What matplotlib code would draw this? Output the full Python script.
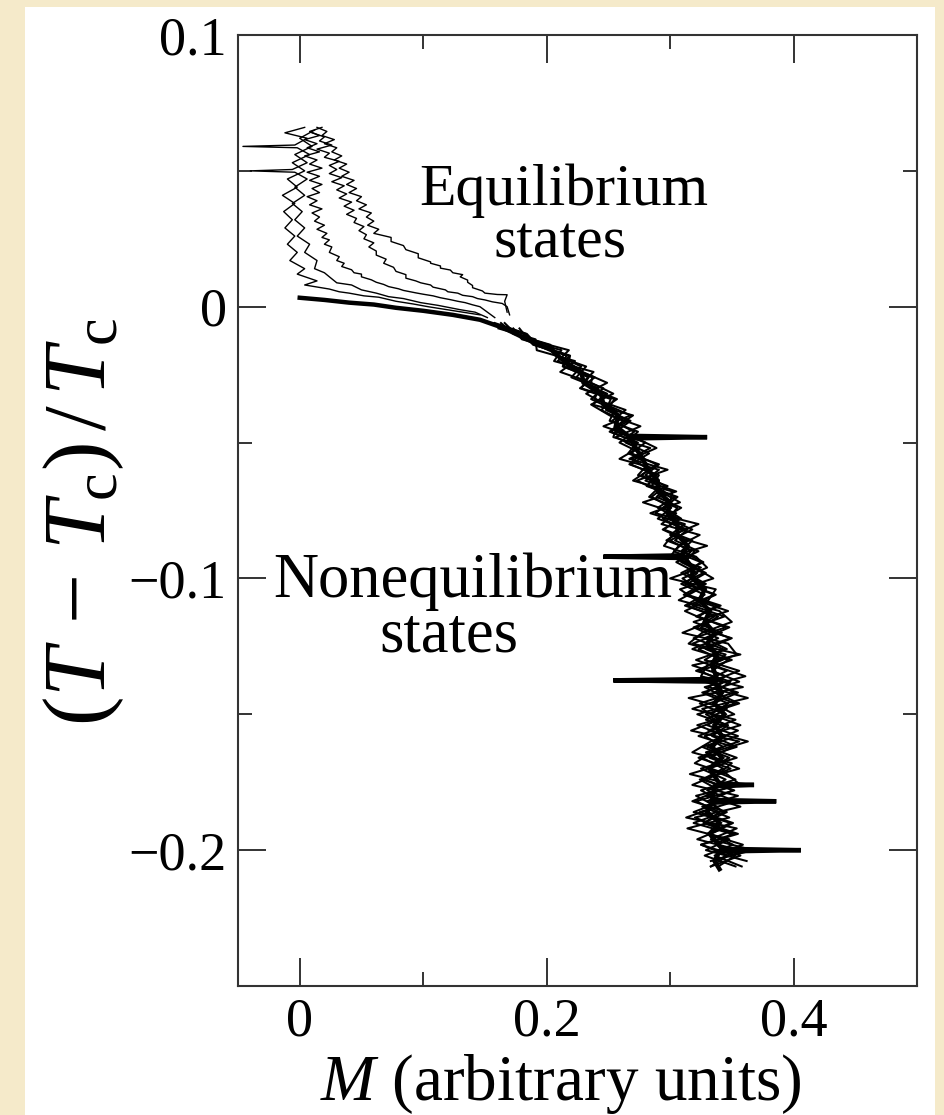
import numpy as np
import matplotlib.pyplot as plt
from matplotlib.patches import Rectangle

plt.rcParams['font.family'] = ['Liberation Serif', 'DejaVu Serif']
plt.rcParams['mathtext.fontset'] = 'custom'
plt.rcParams['mathtext.rm'] = 'Liberation Serif'
plt.rcParams['mathtext.it'] = 'Liberation Serif:italic'

# upper (equilibrium) branches: (T-Tc)/Tc and M
a_t = [0.066, 0.064, 0.062, 0.0595, 0.059, 0.0585, 0.056, 0.053, 0.050, 0.047, 0.044, 0.041,
       0.038, 0.035, 0.032, 0.029, 0.026, 0.023, 0.020, 0.017, 0.014, 0.012, 0.0095, 0.008,
       0.0065, 0.0055, 0.005, 0.004, 0.0035, 0.002, 0.001, 0.0, -0.001, -0.002, -0.003]
a_m = [0.004, -0.012, 0.006, -0.004, -0.046, -0.002, 0.008, -0.006, 0.004, -0.010, -0.002, -0.014,
       -0.004, -0.013, -0.006, -0.012, -0.004, -0.010, -0.002, -0.008, 0.004, -0.002, 0.014, 0.004,
       0.024, 0.032, 0.040, 0.052, 0.064, 0.078, 0.092, 0.104, 0.118, 0.132, 0.146]

b_t = [0.065, 0.062, 0.059, 0.056, 0.053, 0.0505, 0.050, 0.0495, 0.047, 0.044, 0.041, 0.038,
       0.035, 0.032, 0.029, 0.026, 0.023, 0.020, 0.017, 0.014, 0.0125, 0.011, 0.0088, 0.008,
       0.0062, 0.005, 0.0037, 0.003, 0.0015, 0.0005, -0.0011, -0.002, -0.004]
b_m = [0.012, 0.000, 0.010, -0.004, 0.006, -0.006, -0.040, -0.004, 0.006, -0.004, 0.004, -0.006,
       0.002, -0.004, 0.004, -0.002, 0.008, 0.004, 0.014, 0.012, 0.020, 0.024, 0.030, 0.042,
       0.050, 0.062, 0.072, 0.084, 0.098, 0.112, 0.130, 0.142, 0.152]

c_t = [0.066, 0.0645, 0.063, 0.0615, 0.060, 0.0585, 0.057, 0.0555, 0.054, 0.0525, 0.051, 0.0495,
       0.048, 0.0465, 0.045, 0.0435, 0.042, 0.0405, 0.039, 0.0375, 0.036, 0.0345, 0.033, 0.0315,
       0.030, 0.0285, 0.027, 0.0255, 0.0246, 0.023, 0.022, 0.020, 0.0184, 0.017, 0.016, 0.0148,
       0.0136, 0.0125, 0.012, 0.011, 0.0099, 0.009, 0.0082, 0.0074, 0.0066, 0.006, 0.0051, 0.0046,
       0.004, 0.0033, 0.0026, 0.002, 0.0015, 0.0007, 0.0, -0.002, -0.004]
c_m = [0.018, 0.008, 0.016, 0.004, 0.014, 0.006, 0.016, 0.004, 0.014, 0.008, 0.018, 0.006,
       0.016, 0.008, 0.018, 0.010, 0.016, 0.006, 0.014, 0.008, 0.018, 0.010, 0.016, 0.012,
       0.020, 0.014, 0.022, 0.018, 0.024, 0.020, 0.026, 0.024, 0.032, 0.030, 0.036, 0.034,
       0.042, 0.044, 0.050, 0.050, 0.058, 0.062, 0.068, 0.072, 0.080, 0.084, 0.094, 0.100,
       0.108, 0.114, 0.122, 0.128, 0.134, 0.140, 0.146, 0.152, 0.158]

d_t = [0.064, 0.0625, 0.061, 0.0595, 0.058, 0.0565, 0.055, 0.0535, 0.052, 0.0505, 0.049, 0.0475,
       0.046, 0.0445, 0.043, 0.0415, 0.040, 0.0385, 0.037, 0.0355, 0.034, 0.0325, 0.031, 0.0295,
       0.028, 0.0265, 0.025, 0.0235, 0.022, 0.0205, 0.019, 0.0175, 0.016, 0.0145, 0.013, 0.0118,
       0.0105, 0.0095, 0.0088, 0.008, 0.0072, 0.0062, 0.0055, 0.005, 0.0042, 0.0037, 0.003,
       0.0025, 0.0018, 0.0012, 0.0, -0.003]
d_m = [0.010, 0.020, 0.016, 0.026, 0.014, 0.024, 0.020, 0.032, 0.024, 0.030, 0.024, 0.034,
       0.026, 0.036, 0.030, 0.038, 0.032, 0.042, 0.036, 0.044, 0.038, 0.046, 0.044, 0.052,
       0.048, 0.054, 0.052, 0.060, 0.056, 0.062, 0.062, 0.070, 0.068, 0.076, 0.078, 0.086,
       0.086, 0.094, 0.098, 0.106, 0.108, 0.118, 0.120, 0.128, 0.132, 0.140, 0.144,
       0.150, 0.156, 0.164, 0.168, 0.170]

e_t = [0.066, 0.0645, 0.063, 0.0615, 0.060, 0.0585, 0.057, 0.0555, 0.054, 0.0525, 0.051, 0.0495,
       0.048, 0.0465, 0.045, 0.0435, 0.042, 0.0405, 0.039, 0.0375, 0.036, 0.0345, 0.033, 0.0315,
       0.030, 0.0285, 0.027, 0.0255, 0.024, 0.0225, 0.021, 0.0195, 0.018, 0.0165, 0.016, 0.015,
       0.0142, 0.0135, 0.0125, 0.0118, 0.011, 0.0098, 0.009, 0.0078, 0.007, 0.0058, 0.005,
       0.0045, 0.0044, 0.002, -0.002]
e_m = [0.014, 0.022, 0.018, 0.028, 0.020, 0.030, 0.026, 0.034, 0.028, 0.038, 0.032, 0.040,
       0.034, 0.044, 0.038, 0.046, 0.040, 0.050, 0.046, 0.054, 0.048, 0.058, 0.054, 0.060,
       0.055, 0.064, 0.060, 0.074, 0.074, 0.084, 0.086, 0.096, 0.096, 0.106, 0.106, 0.114,
       0.114, 0.122, 0.124, 0.132, 0.130, 0.136, 0.136, 0.140, 0.140, 0.148, 0.150,
       0.160, 0.168, 0.166, 0.168]

# lower part (below Tc), two interleaved temperature grids
t_low = [-0.006, -0.010, -0.014, -0.018, -0.022, -0.026, -0.030, -0.034, -0.038, -0.042,
         -0.046, -0.050, -0.054, -0.058, -0.062, -0.066, -0.070, -0.074, -0.078, -0.082,
         -0.086, -0.090, -0.094, -0.098, -0.102, -0.106, -0.110, -0.114, -0.118, -0.122,
         -0.126, -0.130, -0.134, -0.138, -0.142, -0.146, -0.150, -0.154, -0.158, -0.162,
         -0.166, -0.170, -0.174, -0.178, -0.182, -0.186, -0.190, -0.194, -0.198, -0.202, -0.206]
a_low = [0.156, 0.183, 0.190, 0.216, 0.213, 0.237, 0.235, 0.257, 0.244, 0.262, 0.251, 0.274,
         0.269, 0.289, 0.277, 0.292, 0.283, 0.306, 0.298, 0.318, 0.300, 0.317, 0.309, 0.327,
         0.309, 0.328, 0.312, 0.339, 0.325, 0.349, 0.323, 0.342, 0.321, 0.349, 0.336, 0.356,
         0.329, 0.345, 0.323, 0.351, 0.332, 0.356, 0.324, 0.340, 0.318, 0.346, 0.327, 0.352,
         0.325, 0.347, 0.333]
b_low = [0.166, 0.175, 0.201, 0.207, 0.232, 0.224, 0.246, 0.236, 0.255, 0.251, 0.274, 0.264,
         0.283, 0.268, 0.289, 0.281, 0.306, 0.295, 0.309, 0.294, 0.313, 0.303, 0.325, 0.313,
         0.329, 0.314, 0.341, 0.321, 0.348, 0.328, 0.346, 0.321, 0.346, 0.328, 0.355, 0.335,
         0.352, 0.322, 0.345, 0.330, 0.354, 0.325, 0.345, 0.330, 0.353, 0.324, 0.351, 0.333,
         0.351, 0.328, 0.353]
c_low = [0.158, 0.184, 0.192, 0.219, 0.217, 0.239, 0.227, 0.252, 0.248, 0.268, 0.256, 0.280,
         0.268, 0.282, 0.274, 0.298, 0.289, 0.309, 0.294, 0.311, 0.297, 0.320, 0.312, 0.329,
         0.314, 0.337, 0.318, 0.344, 0.319, 0.339, 0.318, 0.347, 0.334, 0.356, 0.326, 0.347,
         0.333, 0.357, 0.328, 0.343, 0.323, 0.349, 0.328, 0.351, 0.330, 0.344, 0.319, 0.350,
         0.337, 0.357, 0.333]
d_low = [0.163, 0.173, 0.203, 0.209, 0.228, 0.220, 0.242, 0.239, 0.264, 0.253, 0.271, 0.259,
         0.277, 0.267, 0.291, 0.285, 0.304, 0.290, 0.307, 0.295, 0.318, 0.309, 0.327, 0.309,
         0.327, 0.311, 0.338, 0.323, 0.345, 0.319, 0.343, 0.328, 0.356, 0.333, 0.352, 0.324,
         0.344, 0.330, 0.355, 0.326, 0.348, 0.331, 0.353, 0.325, 0.342, 0.319, 0.349, 0.330,
         0.359, 0.336, 0.358]
e_low = [0.155, 0.181, 0.189, 0.218, 0.214, 0.234, 0.228, 0.255, 0.249, 0.266, 0.252, 0.273,
         0.266, 0.291, 0.280, 0.296, 0.285, 0.301, 0.290, 0.314, 0.304, 0.323, 0.305, 0.322,
         0.312, 0.336, 0.314, 0.336, 0.321, 0.350, 0.329, 0.350, 0.324, 0.344, 0.329, 0.353,
         0.322, 0.347, 0.334, 0.354, 0.326, 0.343, 0.326, 0.352, 0.321, 0.340, 0.328, 0.355,
         0.325, 0.353, 0.339]

t_low2 = [-0.008, -0.012, -0.016, -0.020, -0.024, -0.028, -0.032, -0.036, -0.040, -0.044,
          -0.048, -0.052, -0.056, -0.060, -0.064, -0.068, -0.072, -0.076, -0.080, -0.084,
          -0.088, -0.092, -0.096, -0.100, -0.104, -0.108, -0.112, -0.116, -0.120, -0.124,
          -0.128, -0.132, -0.136, -0.140, -0.144, -0.148, -0.152, -0.156, -0.160, -0.164,
          -0.168, -0.172, -0.176, -0.180, -0.184, -0.188, -0.192, -0.196, -0.200, -0.204]
f_low = [0.178, 0.185, 0.218, 0.209, 0.229, 0.249, 0.232, 0.248, 0.268, 0.246, 0.271, 0.289,
         0.269, 0.283, 0.270, 0.302, 0.300, 0.288, 0.323, 0.302, 0.295, 0.321, 0.330, 0.310,
         0.323, 0.307, 0.340, 0.350, 0.326, 0.315, 0.345, 0.335, 0.361, 0.328, 0.345, 0.318,
         0.353, 0.331, 0.363, 0.334, 0.320, 0.346, 0.357, 0.321, 0.338, 0.313, 0.354, 0.333,
         0.367, 0.333]
g_low = [0.161, 0.191, 0.192, 0.223, 0.211, 0.236, 0.254, 0.236, 0.251, 0.276, 0.256, 0.274,
         0.259, 0.291, 0.280, 0.305, 0.278, 0.305, 0.293, 0.324, 0.307, 0.300, 0.325, 0.300,
         0.337, 0.331, 0.312, 0.332, 0.310, 0.347, 0.354, 0.330, 0.325, 0.359, 0.315, 0.346,
         0.329, 0.355, 0.333, 0.318, 0.350, 0.339, 0.318, 0.355, 0.326, 0.348, 0.314, 0.348,
         0.329, 0.362]
h_low = [0.173, 0.180, 0.212, 0.206, 0.238, 0.229, 0.249, 0.237, 0.270, 0.257, 0.254, 0.284,
         0.267, 0.298, 0.273, 0.292, 0.308, 0.284, 0.312, 0.300, 0.330, 0.301, 0.320, 0.335,
         0.308, 0.321, 0.347, 0.319, 0.342, 0.318, 0.357, 0.318, 0.345, 0.331, 0.363, 0.326,
         0.340, 0.317, 0.356, 0.329, 0.345, 0.316, 0.351, 0.329, 0.357, 0.320, 0.343, 0.322,
         0.356, 0.336]

# thick nonequilibrium path
k_t = [0.0033, 0.0025, 0.0015, 0.0008, -0.0004, -0.0015, -0.003, -0.0048, -0.008, -0.012,
       -0.016, -0.020, -0.024, -0.028, -0.032, -0.036, -0.040, -0.044, -0.0475, -0.048, -0.0485,
       -0.052, -0.056, -0.060, -0.064, -0.068, -0.072, -0.076, -0.080, -0.084, -0.088, -0.0915,
       -0.092, -0.0925, -0.096, -0.100, -0.104, -0.108, -0.112, -0.116, -0.120, -0.124, -0.128,
       -0.132, -0.137, -0.1375, -0.138, -0.142, -0.146, -0.150, -0.154, -0.158, -0.162, -0.166,
       -0.170, -0.1755, -0.176, -0.1765, -0.1815, -0.182, -0.1825, -0.186, -0.190, -0.194,
       -0.1995, -0.200, -0.2005, -0.204, -0.207]
k_m = [0.000, 0.020, 0.040, 0.060, 0.078, 0.100, 0.124, 0.146, 0.166, 0.184,
       0.204, 0.214, 0.228, 0.230, 0.244, 0.246, 0.258, 0.256, 0.266, 0.330, 0.268,
       0.272, 0.278, 0.282, 0.290, 0.290, 0.300, 0.298, 0.306, 0.306, 0.314, 0.310,
       0.246, 0.312, 0.318, 0.318, 0.328, 0.324, 0.332, 0.328, 0.336, 0.330, 0.338,
       0.334, 0.338, 0.254, 0.336, 0.342, 0.336, 0.344, 0.336, 0.342, 0.334, 0.342,
       0.332, 0.340, 0.368, 0.336, 0.334, 0.386, 0.334, 0.330, 0.340, 0.332,
       0.342, 0.406, 0.340, 0.336, 0.340]

fig = plt.figure(figsize=(9.44, 11.15), dpi=100)
fig.patch.set_facecolor('#f5eaca')
fig.patches.append(Rectangle((25 / 944, 0), 910 / 944, 1108 / 1115, transform=fig.transFigure,
                             facecolor='white', edgecolor='none', zorder=-10))
ax = fig.add_axes([238 / 944, 129 / 1115, 679 / 944, 951 / 1115])
ax.set_zorder(1)

for tt, mm in [(a_t, a_m), (b_t, b_m), (c_t, c_m), (d_t, d_m), (e_t, e_m)]:
    ax.plot(mm, tt, color='black', lw=1.0)
for low in [a_low, b_low, c_low, d_low, e_low]:
    ax.plot(low, t_low, color='black', lw=1.45)
for low in [f_low, g_low, h_low]:
    ax.plot(low, t_low2, color='black', lw=1.45)
ax.plot(k_m, k_t, color='black', lw=3.2, solid_joinstyle='miter')

ax.set_xlim(-0.05, 0.5)
ax.set_ylim(-0.25, 0.1)
ax.set_xticks([0, 0.2, 0.4])
ax.set_xticklabels(['0', '0.2', '0.4'])
ax.set_xticks([0.1, 0.3], minor=True)
ax.set_yticks([-0.2, -0.1, 0, 0.1])
ax.set_yticklabels(['\u22120.2', '\u22120.1', '0', '0.1'])
ax.set_yticks([-0.15, -0.05, 0.05], minor=True)
ax.tick_params(which='both', direction='in', top=True, right=True, width=1.4, color='#333333')
ax.tick_params(which='major', length=20, labelsize=39, pad=8)
ax.tick_params(which='minor', length=10)
for s in ax.spines.values():
    s.set_linewidth(1.5)
    s.set_color('#333333')

ax.set_xlabel(r'$M$ (arbitrary units)', fontsize=47)
ax.xaxis.set_label_coords(0.476, -0.12, transform=ax.transAxes)
ax.xaxis.label.set_va('baseline')
ax.set_ylabel(r'$(T\,-\,T_{\mathrm{c}})\,/\,T_{\mathrm{c}}$', fontsize=64)
ax.yaxis.set_label_coords(-0.165, 0.488, transform=ax.transAxes)

ax.text(0.214, 0.0375, 'Equilibrium', fontsize=43, ha='center', va='baseline')
ax.text(0.211, 0.018, 'states', fontsize=43, ha='center', va='baseline')
ax.text(0.140, -0.107, 'Nonequilibrium', fontsize=45, ha='center', va='baseline')
ax.text(0.121, -0.1268, 'states', fontsize=45, ha='center', va='baseline')

fig.savefig('out.png', dpi=100)
